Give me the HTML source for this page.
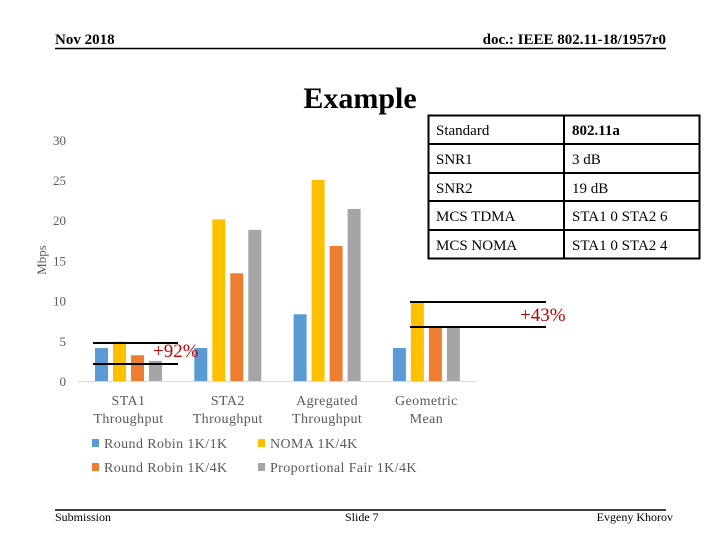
<!DOCTYPE html>
<html><head><meta charset="utf-8"><style>
body{margin:0;width:720px;height:540px;background:#fff;overflow:hidden;font-family:"Liberation Serif",serif;}
svg text{font-family:"Liberation Serif",serif;}
</style></head><body>
<svg width="720" height="540" xmlns="http://www.w3.org/2000/svg">
<text x="55" y="44" font-size="15" font-weight="bold">Nov 2018</text>
<text x="666" y="44" font-size="15" font-weight="bold" text-anchor="end">doc.: IEEE 802.11-18/1957r0</text>
<line x1="55" y1="48.5" x2="666" y2="48.5" stroke="#000" stroke-width="1.5"/>
<text x="360" y="108" font-size="30" font-weight="bold" text-anchor="middle">Example</text>
<g id="axes"></g>
<text transform="translate(46,260) rotate(-90)" font-size="13" fill="#595959" text-anchor="middle">Mbps</text>
<line x1="78" y1="381.5" x2="476" y2="381.5" stroke="#d9d9d9"/>
<g id="bars"></g>
<g id="cats"></g>
<line x1="93" y1="343" x2="178" y2="343" stroke="#000" stroke-width="2"/>
<line x1="93" y1="364" x2="178" y2="364" stroke="#000" stroke-width="2"/>
<text x="153" y="357" font-size="19" fill="#c00000">+92%</text>
<line x1="410" y1="302" x2="546" y2="302" stroke="#000" stroke-width="2"/>
<line x1="410" y1="327" x2="546" y2="327" stroke="#000" stroke-width="2"/>
<text x="520" y="321" font-size="19" fill="#c00000">+43%</text>
<g font-size="14" fill="#595959" letter-spacing="0.4">
<rect x="92" y="439" width="7" height="8" fill="#5b9bd5"/><text x="104" y="448">Round Robin 1K/1K</text>
<rect x="258" y="439" width="7" height="8" fill="#ffc000"/><text x="270" y="448">NOMA 1K/4K</text>
<rect x="92" y="463" width="7" height="8" fill="#ed7d31"/><text x="104" y="472">Round Robin 1K/4K</text>
<rect x="258" y="463" width="7" height="8" fill="#a5a5a5"/><text x="270" y="472">Proportional Fair 1K/4K</text>
</g>
<g font-size="15">
<rect x="428.5" y="115.5" width="271" height="143" fill="#fff" stroke="#000" stroke-width="2"/>
<line x1="564" y1="115" x2="564" y2="259" stroke="#000" stroke-width="2"/>
<line x1="428" y1="144" x2="700" y2="144" stroke="#000" stroke-width="2"/>
<line x1="428" y1="173" x2="700" y2="173" stroke="#000" stroke-width="2"/>
<line x1="428" y1="201" x2="700" y2="201" stroke="#000" stroke-width="2"/>
<line x1="428" y1="230" x2="700" y2="230" stroke="#000" stroke-width="2"/>
<text x="436" y="135">Standard</text><text x="572" y="135" font-weight="bold">802.11a</text>
<text x="436" y="164">SNR1</text><text x="572" y="164">3 dB</text>
<text x="436" y="193">SNR2</text><text x="572" y="193">19 dB</text>
<text x="436" y="221">MCS TDMA</text><text x="572" y="221">STA1 0 STA2 6</text>
<text x="436" y="250">MCS NOMA</text><text x="572" y="250">STA1 0 STA2 4</text>
</g>
<line x1="55" y1="510" x2="666" y2="510" stroke="#000" stroke-width="1.5"/>
<text x="55" y="521" font-size="12">Submission</text>
<text x="345" y="521" font-size="12">Slide 7</text>
<text x="673" y="521" font-size="12" text-anchor="end">Evgeny Khorov</text>
</svg>
<script>
const categories=[["STA1","Throughput"],["STA2","Throughput"],["Agregated","Throughput"],["Geometric","Mean"]];
const seriesNames=["Round Robin 1K/1K","NOMA 1K/4K","Round Robin 1K/4K","Proportional Fair 1K/4K"];
const rr11=[4.1,4.1,8.3,4.1];
const noma=[4.9,20.1,25,9.7];
const rr14=[3.2,13.4,16.8,6.6];
const pf=[2.5,18.8,21.4,6.8];
const yTicks=[0,5,10,15,20,25,30];
const colors=["#5b9bd5","#ffc000","#ed7d31","#a5a5a5"];
const NS="http://www.w3.org/2000/svg";
function yScale(v){return 381-v*8.04;}
function xGroup(i){return 95+i*99.3;}
const ax=document.getElementById('axes');
yTicks.forEach(t=>{const e=document.createElementNS(NS,'text');
e.setAttribute('x',66);e.setAttribute('y',yScale(t)+5);e.setAttribute('text-anchor','end');e.setAttribute('font-size','13');e.setAttribute('fill','#595959');


e.textContent=t;ax.appendChild(e);});
const bars=document.getElementById('bars');
[rr11,noma,rr14,pf].forEach((s,si)=>{s.forEach((v,i)=>{const r=document.createElementNS(NS,'rect');
const x=xGroup(i)+si*18;r.setAttribute('x',x);r.setAttribute('y',yScale(v));r.setAttribute('width',13);r.setAttribute('height',381-yScale(v));r.setAttribute('fill',colors[si]);


bars.appendChild(r);});});
const cats=document.getElementById('cats');
categories.forEach((c,i)=>{c.forEach((line,li)=>{const e=document.createElementNS(NS,'text');
e.setAttribute('x',xGroup(i)+33.5);e.setAttribute('y',405+li*18);e.setAttribute('text-anchor','middle');e.setAttribute('font-size','14');e.setAttribute('fill','#595959');e.setAttribute('letter-spacing','0.4');


e.textContent=line;cats.appendChild(e);});});
</script>
</body></html>
